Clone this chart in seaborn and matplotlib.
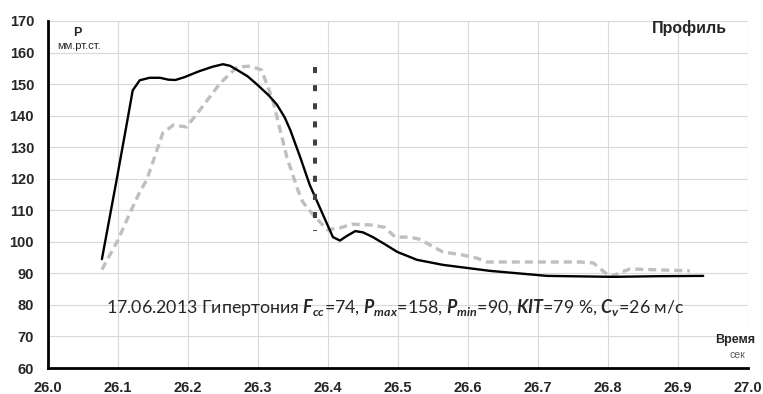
import seaborn as sns
import pandas as pd
from matplotlib import pyplot as plt

# Профиль давления: сплошная кривая
profile_time = [26.077, 26.098, 26.113, 26.121, 26.131, 26.145, 26.160, 26.172, 26.182, 26.195,
                26.215, 26.235, 26.250, 26.260, 26.270, 26.285, 26.298, 26.315, 26.327, 26.338,
                26.346, 26.360, 26.374, 26.385, 26.393, 26.407, 26.417, 26.428, 26.439, 26.450,
                26.464, 26.480, 26.499, 26.527, 26.564, 26.631, 26.713, 26.807, 26.870, 26.936]
profile_pressure = [94.5, 119.6, 138.0, 148.0, 151.2, 152.0, 152.0, 151.4, 151.3, 152.2,
                    154.0, 155.5, 156.3, 155.8, 154.5, 152.5, 150.0, 146.5, 143.5, 139.5,
                    135.5, 127.0, 118.0, 112.5, 108.5, 101.5, 100.4, 102.0, 103.4, 103.0,
                    101.5, 99.4, 96.8, 94.3, 92.7, 90.8, 89.2, 88.9, 89.1, 89.2]

# Вторая кривая (серый пунктир)
second_time = [26.077, 26.100, 26.117, 26.131, 26.141, 26.164, 26.179, 26.198, 26.217, 26.246,
               26.270, 26.289, 26.305, 26.321, 26.341, 26.357, 26.364, 26.379, 26.399, 26.417,
               26.434, 26.464, 26.481, 26.496, 26.517, 26.531, 26.564, 26.593, 26.613, 26.627,
               26.760, 26.779, 26.803, 26.831, 26.917]
second_pressure = [91.2, 100.6, 109.1, 115.8, 119.6, 134.5, 137.0, 136.4, 141.8, 150.3,
                   155.4, 155.7, 154.5, 145.0, 127.0, 116.4, 112.6, 108.5, 103.8, 104.4,
                   105.6, 105.3, 104.6, 101.5, 101.5, 100.8, 96.8, 95.8, 94.8, 93.6,
                   93.6, 93.3, 88.9, 91.4, 90.8]

# Вертикальная метка
marker_time = [26.381, 26.381]
marker_pressure = [155.4, 103.4]

x_ticks = [26.0, 26.1, 26.2, 26.3, 26.4, 26.5, 26.6, 26.7, 26.8, 26.9, 27.0]
y_ticks = [60, 70, 80, 90, 100, 110, 120, 130, 140, 150, 160, 170]

caption = ("17.06.2013 Гипертония $F_{cc}$=74, $P_{max}$=158, $P_{min}$=90, "
           "$KIT$=79 %, $C_v$=26 м/с")


def main() -> None:
    sns.set_style("white")
    plt.rcParams["font.family"] = ["Liberation Sans", "DejaVu Sans"]
    plt.rcParams["mathtext.fontset"] = "custom"
    plt.rcParams["mathtext.rm"] = "Lato"
    plt.rcParams["mathtext.it"] = "Lato:italic:bold"

    fig = plt.figure(figsize=(7.63, 3.94), dpi=100)
    ax = fig.add_axes([48 / 763, 26 / 394, 700 / 763, 347 / 394])

    first = pd.DataFrame({"t": profile_time, "p": profile_pressure})
    second = pd.DataFrame({"t": second_time, "p": second_pressure})
    marker = pd.DataFrame({"t": marker_time, "p": marker_pressure})

    sns.lineplot(data=second, x="t", y="p", ax=ax, color="#bfbfbf", lw=2.4,
                 estimator=None, sort=False)
    ax.lines[-1].set_dashes((2.4, 1.5))
    sns.lineplot(data=first, x="t", y="p", ax=ax, color="black", lw=1.7,
                 estimator=None, sort=False)
    sns.lineplot(data=marker, x="t", y="p", ax=ax, color="#404040", lw=2.9,
                 estimator=None, sort=False)
    ax.lines[-1].set_dashes((1.5, 3.0))
    ax.lines[-1].set_dash_capstyle("butt")

    ax.set_xlim(26.0, 27.0)
    ax.set_ylim(60, 170)
    ax.set_xticks(x_ticks)
    ax.set_yticks(y_ticks)
    ax.set_xticklabels([f"{t:.1f}" for t in x_ticks], fontweight="bold", fontsize=10.5)
    ax.set_yticklabels([str(t) for t in y_ticks], fontweight="bold", fontsize=10.5)
    ax.set_xlabel("")
    ax.set_ylabel("")

    ax.grid(True, color="#d9d9d9", lw=0.8)
    ax.set_axisbelow(True)
    for side in ("top", "right"):
        ax.spines[side].set_visible(False)
    for side in ("left", "bottom"):
        ax.spines[side].set_color("black")
        ax.spines[side].set_linewidth(2)
    ax.tick_params(direction="out", length=4, width=2, color="black")
    ax.tick_params(axis="x", pad=5)
    ax.tick_params(axis="y", pad=6)

    ax.text(77 / 763, 1 - 33 / 394, "P", transform=fig.transFigure, fontsize=9,
            fontweight="bold", ha="center", va="center")
    ax.text(79 / 763, 1 - 46 / 394, "мм.рт.ст.", transform=fig.transFigure, fontsize=8,
            ha="center", va="center")
    ax.text(727 / 763, 1 - 28 / 394, "Профиль", transform=fig.transFigure, fontsize=11.5,
            fontweight="bold", ha="right", va="center")
    ax.text(755 / 763, 1 - 340 / 394, "Время", transform=fig.transFigure, fontsize=9,
            fontweight="bold", ha="right", va="center")
    ax.text(745 / 763, 1 - 355 / 394, "сек", transform=fig.transFigure, fontsize=7.5,
            color="#595959", ha="right", va="center")
    ax.text(106 / 763, 1 - 308 / 394, caption, transform=fig.transFigure, fontsize=12.8,
            family=["Lato", "DejaVu Sans"], ha="left", va="center")

    plt.savefig("out.png", dpi=100)


if __name__ == "__main__":
    main()
